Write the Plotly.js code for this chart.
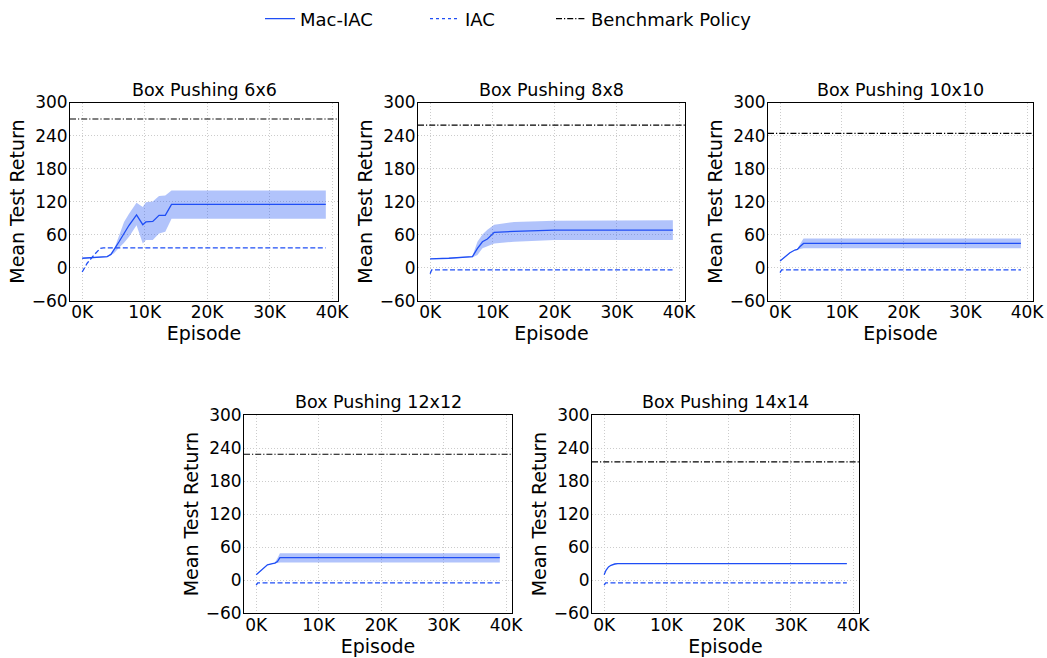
<!DOCTYPE html>
<html>
<head>
<meta charset="utf-8">
<script src="https://cdn.plot.ly/plotly-3.0.1.min.js"></script>
<style>html,body{margin:0;padding:0;background:#fff;}#chart{width:1047px;height:658px;}</style>
</head>
<body>
<div id="chart"></div>
<script>
// ---------------- data ----------------
const envNames = ["Box Pushing 6x6", "Box Pushing 8x8", "Box Pushing 10x10", "Box Pushing 12x12", "Box Pushing 14x14"];
const benchmark = [270, 259, 244, 229, 215];

// Mac-IAC (mean, upper, lower) per environment
const macEp6 = [0, 2200, 4000, 4600, 5100, 5900, 6700, 7500, 8700, 9700, 10200, 11300, 12300, 13300, 14300, 39000];
const macMean6 = [17, 19, 20, 24, 32, 47, 62, 77, 96, 78, 83, 84, 95, 95, 115, 115];
const macUp6 = [18, 20, 21, 25, 33, 58, 83, 98, 118, 110, 119, 120, 130, 131, 140, 140];
const macLow6 = [16, 18, 19, 23, 26, 36, 45, 56, 77, 44, 50, 50, 62, 65, 89, 89];

const macEp8 = [0, 3000, 6800, 7600, 8400, 9200, 10300, 13500, 20000, 39000];
const macMean8 = [16, 17, 20, 35, 47, 52, 64, 66, 68, 68];
const macUp8 = [17, 18, 21, 47, 60, 69, 78, 83, 85, 86];
const macLow8 = [15, 16, 19, 23, 35, 39, 44, 47, 50, 50];

const macEp10 = [0, 800, 1600, 2400, 2800, 3200, 3800, 39000];
const macMean10 = [12, 20, 27, 32, 33, 38, 44, 44];
const macUp10 = [12.5, 20.5, 27.5, 32.5, 34, 42, 53, 53];
const macLow10 = [11.5, 19.5, 26.5, 31.5, 32, 34, 35, 35];

const macEp12 = [0, 1000, 1800, 2600, 3000, 3400, 3800, 39000];
const macMean12 = [10, 21, 28, 30, 31, 34, 41, 41];
const macUp12 = [10.5, 21.5, 28.5, 30.5, 32, 40, 49, 49];
const macLow12 = [9.5, 20.5, 27.5, 29.5, 30, 31, 32, 32];

const macEp14 = [0, 300, 700, 1100, 1700, 2200, 39000];
const macMean14 = [10, 18, 24, 27, 29.4, 30, 30];
const macUp14 = [10.3, 18.3, 24.3, 27.3, 29.8, 30.6, 30.6];
const macLow14 = [9.7, 17.7, 23.7, 26.7, 29, 29.4, 29.4];

// IAC per environment
const iacEp6 = [0, 800, 1900, 2900, 3400, 39000];
const iacMean6 = [-8, 8, 23, 35, 36, 36];
const iacEp8 = [0, 250, 39000];
const iacMean8 = [-11, -4, -4];
const iacEp10 = [0, 250, 39000];
const iacMean10 = [-9, -4, -4];
const iacEp12 = [0, 250, 39000];
const iacMean12 = [-9, -5, -5];
const iacEp14 = [0, 250, 39000];
const iacMean14 = [-9, -5, -5];

// axis ticks
const xTickVals = [0, 10000, 20000, 30000, 40000];
const xTickText = ["0K", "10K", "20K", "30K", "40K"];
const yTickVals = [-60, 0, 60, 120, 180, 240, 300];
const yTickText = ["\u221260", "0", "60", "120", "180", "240", "300"];
const xRange = [-1950, 40950];
const yRange = [-60, 300];

// ---------------- build ----------------
const macEps = [macEp6, macEp8, macEp10, macEp12, macEp14];
const macMeans = [macMean6, macMean8, macMean10, macMean12, macMean14];
const macUps = [macUp6, macUp8, macUp10, macUp12, macUp14];
const macLows = [macLow6, macLow8, macLow10, macLow12, macLow14];
const iacEps = [iacEp6, iacEp8, iacEp10, iacEp12, iacEp14];
const iacMeans = [iacMean6, iacMean8, iacMean10, iacMean12, iacMean14];

const W = 1047, H = 658;
// plot boxes in pixels: [left, right, top, bottom]
const boxes = [
  [70, 338, 100, 299],
  [418, 685, 100, 299],
  [768, 1033, 100, 299],
  [244, 512, 414, 613],
  [592, 859, 414, 613]
];

const BLUE = "#1f4ef5";
const FILL = "rgba(40,90,245,0.36)";
const FONT = "DejaVu Sans, sans-serif";

const traces = [];
const legendBase = {y: 1 - 16 / H, xanchor: "left", yanchor: "middle", orientation: "h", font: {size: 18}, bgcolor: "rgba(0,0,0,0)"};
const layout = {
  width: W, height: H,
  margin: {l: 0, r: 0, t: 0, b: 0},
  paper_bgcolor: "#fff", plot_bgcolor: "#fff",
  font: {family: FONT, size: 17, color: "#000"},
  annotations: [],
  legend: Object.assign({x: 260 / W}, legendBase),
  legend2: Object.assign({x: 425 / W}, legendBase),
  legend3: Object.assign({x: 551 / W}, legendBase)
};

for (let i = 0; i < 5; i++) {
  const n = i + 1;
  const xa = n === 1 ? "x" : "x" + n;
  const ya = n === 1 ? "y" : "y" + n;
  const b = boxes[i];
  layout[n === 1 ? "xaxis" : "xaxis" + n] = {
    domain: [b[0] / W, b[1] / W], anchor: ya,
    range: xRange, tickvals: xTickVals, ticktext: xTickText,
    showline: true, mirror: true, linecolor: "#000", linewidth: 1,
    showgrid: true, gridcolor: "#cccccc", griddash: "1px,2px", gridwidth: 1,
    zeroline: false, ticks: "", tickfont: {size: 17}, ticklabelstandoff: -4,
    title: {text: "Episode", font: {size: 19}, standoff: 0}
  };
  layout[n === 1 ? "yaxis" : "yaxis" + n] = {
    domain: [1 - b[3] / H, 1 - b[2] / H], anchor: xa,
    range: yRange, tickvals: yTickVals, ticktext: yTickText,
    showline: true, mirror: true, linecolor: "#000", linewidth: 1,
    showgrid: true, gridcolor: "#cccccc", griddash: "1px,2px", gridwidth: 1,
    zeroline: false, ticks: "", tickfont: {size: 17}, ticklabelstandoff: -2,
    title: {text: "Mean Test Return", font: {size: 19}, standoff: 2}
  };
  layout.annotations.push({
    text: envNames[i], xref: "paper", yref: "paper",
    x: (b[0] + b[1]) / 2 / W, y: 1 - (b[2] - 1) / H,
    xanchor: "center", yanchor: "bottom", showarrow: false,
    font: {size: 17.5, family: FONT}
  });

  // band
  traces.push({x: macEps[i], y: macLows[i], xaxis: xa, yaxis: ya, mode: "lines",
    line: {width: 0, color: FILL}, showlegend: false, hoverinfo: "skip"});
  traces.push({x: macEps[i], y: macUps[i], xaxis: xa, yaxis: ya, mode: "lines",
    line: {width: 0, color: FILL}, fill: "tonexty", fillcolor: FILL, showlegend: false, hoverinfo: "skip"});
  // Mac-IAC mean
  traces.push({x: macEps[i], y: macMeans[i], xaxis: xa, yaxis: ya, mode: "lines",
    line: {width: 1.3, color: BLUE}, name: "Mac-IAC", showlegend: i === 0, legend: "legend"});
  // IAC
  traces.push({x: iacEps[i], y: iacMeans[i], xaxis: xa, yaxis: ya, mode: "lines",
    line: {width: 1.3, color: BLUE, dash: "5px,2.5px"}, name: "IAC", showlegend: false});
  // benchmark
  traces.push({x: xRange, y: [benchmark[i], benchmark[i]], xaxis: xa, yaxis: ya, mode: "lines",
    line: {width: 1.1, color: "#000", dash: "6px,2px,1.2px,2px"}, name: "Benchmark Policy",
    showlegend: i === 0, legend: "legend3"});
}
// legend-only entry for IAC (dotted style as in the reference legend)
traces.push({x: [null], y: [null], xaxis: "x", yaxis: "y", mode: "lines",
  line: {width: 1.3, color: BLUE, dash: "dot"}, name: "IAC", showlegend: true, legend: "legend2"});

Plotly.newPlot("chart", traces, layout, {staticPlot: true});
</script>
</body>
</html>
